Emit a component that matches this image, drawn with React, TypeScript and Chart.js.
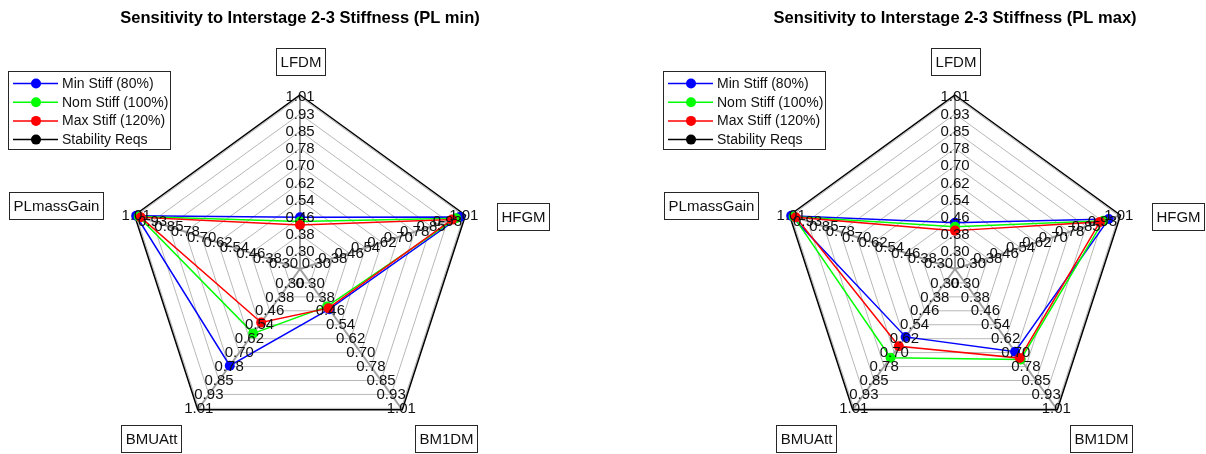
import React, { useEffect, useRef } from 'react';
import { Chart, registerables } from 'chart.js';

Chart.register(...registerables);

// ---------------- data ----------------
const AXES = ['LFDM', 'HFGM', 'BM1DM', 'BMUAtt', 'PLmassGain'];
const TICK_VALUES = [0.301, 0.38, 0.459, 0.538, 0.617, 0.696, 0.775, 0.854, 0.933, 1.012];
const TICK_LABELS = ['0.30', '0.38', '0.46', '0.54', '0.62', '0.70', '0.78', '0.85', '0.93', '1.01'];
const SCALE_MIN = 0.222;
const SCALE_MAX = 1.02;

const SERIES_NAMES = ['Min Stiff (80%)', 'Nom Stiff (100%)', 'Max Stiff (120%)', 'Stability Reqs'];
const SERIES_COLORS = ['#0000ff', '#00ff00', '#ff0000', '#000000'];

// PL min
const MIN_STIFF_PLMIN = [0.459, 0.992, 0.45, 0.77, 1.012];
const NOM_STIFF_PLMIN = [0.44, 0.975, 0.434, 0.587, 1.0];
const MAX_STIFF_PLMIN = [0.424, 0.955, 0.444, 0.525, 0.99];
// PL max
const MIN_STIFF_PLMAX = [0.434, 0.963, 0.691, 0.607, 1.012];
const NOM_STIFF_PLMAX = [0.416, 0.937, 0.735, 0.725, 1.0];
const MAX_STIFF_PLMAX = [0.398, 0.921, 0.727, 0.66, 0.99];
// requirement
const STABILITY_REQS = [1.02, 1.02, 1.02, 1.02, 1.02];

const TITLES = ['Sensitivity to Interstage 2-3 Stiffness (PL min)', 'Sensitivity to Interstage 2-3 Stiffness (PL max)'];

const FONT = '"Liberation Sans", Arial, Helvetica, sans-serif';

// ---------------- overlay plugin (spoke tick labels, axis label boxes, legend) ----------------
const overlayPlugin = {
  id: 'overlay',
  afterDatasetsDraw(chart: any) {
    const ctx: CanvasRenderingContext2D = chart.ctx;
    const r = chart.scales.r;
    const cx = r.xCenter;
    const cy = r.yCenter;
    ctx.save();

    // tick labels along every spoke
    ctx.font = `15px ${FONT}`;
    ctx.fillStyle = '#111111';
    ctx.textAlign = 'center';
    ctx.textBaseline = 'middle';
    for (let i = 0; i < AXES.length; i++) {
      for (let k = 0; k < TICK_VALUES.length; k++) {
        const p = r.getPointPositionForValue(i, TICK_VALUES[k]);
        ctx.fillText(TICK_LABELS[k], p.x, p.y + 0.5);
      }
    }

    // axis label boxes
    ctx.font = `15px ${FONT}`;
    const boxH = 27;
    const padX = 4;
    const place = [
      { ax: 0, ay: -207.5, anchor: 'center' },
      { ax: 197, ay: -53, anchor: 'left' },
      { ax: 146, ay: 169.5, anchor: 'center' },
      { ax: -149, ay: 169.5, anchor: 'center' },
      { ax: -197, ay: -64, anchor: 'right' },
    ];
    for (let i = 0; i < AXES.length; i++) {
      const tw = ctx.measureText(AXES[i]).width;
      const bw = tw + padX * 2;
      const pl = place[i];
      let bx = cx + pl.ax - bw / 2;
      if (pl.anchor === 'left') bx = cx + pl.ax;
      if (pl.anchor === 'right') bx = cx + pl.ax - bw;
      const by = cy + pl.ay - boxH / 2;
      ctx.fillStyle = '#ffffff';
      ctx.fillRect(Math.round(bx) + 0.5, Math.round(by) + 0.5, Math.round(bw), boxH);
      ctx.strokeStyle = '#262626';
      ctx.lineWidth = 1;
      ctx.strokeRect(Math.round(bx) + 0.5, Math.round(by) + 0.5, Math.round(bw), boxH);
      ctx.fillStyle = '#111111';
      ctx.textAlign = 'center';
      ctx.fillText(AXES[i], Math.round(bx) + 0.5 + Math.round(bw) / 2, Math.round(by) + 0.5 + boxH / 2 + 1);
    }

    // legend
    const lx = cx - 292;
    const ly = 71;
    const lw = 162;
    const lh = 78;
    ctx.fillStyle = '#ffffff';
    ctx.fillRect(lx + 0.5, ly + 0.5, lw, lh);
    ctx.strokeStyle = '#262626';
    ctx.lineWidth = 1;
    ctx.strokeRect(lx + 0.5, ly + 0.5, lw, lh);
    ctx.font = `14px ${FONT}`;
    ctx.textAlign = 'left';
    ctx.textBaseline = 'middle';
    for (let s = 0; s < SERIES_NAMES.length; s++) {
      const y = ly + 12.5 + s * 18.7;
      ctx.strokeStyle = SERIES_COLORS[s];
      ctx.lineWidth = 1.5;
      ctx.beginPath();
      ctx.moveTo(lx + 5, y);
      ctx.lineTo(lx + 50, y);
      ctx.stroke();
      ctx.fillStyle = SERIES_COLORS[s];
      ctx.beginPath();
      ctx.arc(lx + 28, y, 5, 0, Math.PI * 2);
      ctx.fill();
      ctx.fillStyle = '#111111';
      ctx.fillText(SERIES_NAMES[s], lx + 54, y + 0.5);
    }
    ctx.restore();
  },
};

function makeDataset(label: string, data: number[], color: string, order: number, showPoints: boolean) {
  return {
    label,
    data,
    borderColor: color,
    backgroundColor: color,
    pointBackgroundColor: color,
    pointBorderColor: color,
    pointRadius: showPoints ? 5 : 0,
    pointBorderWidth: 0,
    borderWidth: 1.5,
    fill: false,
    order,
    clip: false,
  };
}

function SpiderChart({ title, series, left, padL, padR }: { title: string; series: number[][]; left: number; padL: number; padR: number }) {
  const ref = useRef<HTMLCanvasElement | null>(null);
  useEffect(() => {
    if (!ref.current) return;
    const chart = new Chart(ref.current, {
      type: 'radar',
      data: {
        labels: AXES,
        datasets: [
          makeDataset(SERIES_NAMES[3], series[3], SERIES_COLORS[3], 4, false),
          makeDataset(SERIES_NAMES[0], series[0], SERIES_COLORS[0], 3, true),
          makeDataset(SERIES_NAMES[1], series[1], SERIES_COLORS[1], 2, true),
          makeDataset(SERIES_NAMES[2], series[2], SERIES_COLORS[2], 1, true),
        ] as any,
      },
      options: {
        responsive: false,
        animation: false,
        events: [],
        layout: { padding: { left: padL, right: padR, top: 0, bottom: 11 } },
        elements: { line: { tension: 0 } },
        plugins: {
          legend: { display: false },
          tooltip: { enabled: false },
          title: {
            display: true,
            text: title,
            color: '#000000',
            font: { family: FONT, size: 16.5, weight: 'bold', lineHeight: 1.2 },
            padding: { top: 9, bottom: 66.2 },
          },
        },
        scales: {
          r: {
            min: SCALE_MIN,
            max: SCALE_MAX,
            startAngle: 0,
            afterBuildTicks: (scale: any) => {
              scale.ticks = [SCALE_MIN, ...TICK_VALUES].map((v) => ({ value: v }));
            },
            ticks: { display: false },
            pointLabels: { display: false },
            grid: { color: '#b8b8b8', lineWidth: 1 },
            angleLines: { color: '#a0a0a0', lineWidth: 2 },
          },
        } as any,
      },
      plugins: [overlayPlugin],
    });
    return () => chart.destroy();
  }, []);
  return (
    <canvas
      ref={ref}
      width={603}
      height={454}
      style={{ position: 'absolute', left, top: 0, width: 603, height: 454 }}
    />
  );
}

export default function App() {
  useEffect(() => {
    document.body.style.margin = '0';
  }, []);
  return (
    <div style={{ position: 'relative', width: 1206, height: 454, overflow: 'hidden', background: '#ffffff' }}>
      <SpiderChart
        title={TITLES[0]}
        series={[MIN_STIFF_PLMIN, NOM_STIFF_PLMIN, MAX_STIFF_PLMIN, STABILITY_REQS]}
        left={0}
        padL={100}
        padR={103}
      />
      <SpiderChart
        title={TITLES[1]}
        series={[MIN_STIFF_PLMAX, NOM_STIFF_PLMAX, MAX_STIFF_PLMAX, STABILITY_REQS]}
        left={603}
        padL={152}
        padR={51}
      />
    </div>
  );
}
